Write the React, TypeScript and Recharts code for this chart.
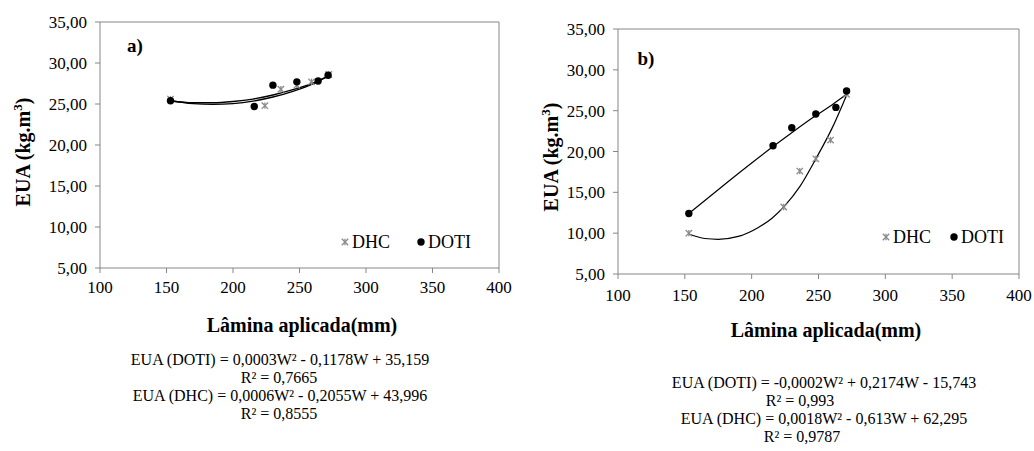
import React from 'react';
import { ComposedChart, XAxis, YAxis, Line, Scatter, ReferenceLine } from 'recharts';

const FONT = "'Liberation Serif', Tinos, 'Times New Roman', 'DejaVu Serif', serif";
const AXIS = '#868686';

// Shared ticks
const xTicks = [100, 150, 200, 250, 300, 350, 400];
const yTicks = [5, 10, 15, 20, 25, 30, 35];

// Chart a) observed points
const aDotiX = [153, 216, 230, 248, 264, 271.5];
const aDotiY = [25.4, 24.7, 27.3, 27.7, 27.8, 28.5];
const aDhcX = [153, 224, 236, 248, 259, 272];
const aDhcY = [25.6, 24.8, 26.8, 27.3, 27.7, 28.6];
// Chart a) trend lines (read from picture)
const aTrendX = [153, 170, 185, 200, 215, 230, 245, 260, 272];
const aTrendDhcY = [25.4, 25.05, 24.95, 25.05, 25.35, 25.85, 26.55, 27.45, 28.5];
const aTrendDotiY = [25.4, 25.15, 25.15, 25.3, 25.6, 26.1, 26.75, 27.55, 28.4];

// Chart b) observed points
const bDotiX = [153, 216, 230, 248, 263, 271];
const bDotiY = [12.4, 20.7, 22.9, 24.6, 25.4, 27.4];
const bDhcX = [153, 224, 236, 248, 259, 271];
const bDhcY = [10.0, 13.2, 17.6, 19.1, 21.4, 27.0];
// Chart b) trend lines (read from picture)
const bTrendDotiX = [153, 180, 200, 216, 230, 248, 260, 271];
const bTrendDotiY = [12.4, 16.0, 18.6, 20.6, 22.3, 24.4, 25.7, 27.0];
const bTrendDhcX = [153, 165, 175, 190, 205, 215, 225, 236, 248, 260, 271];
const bTrendDhcY = [9.9, 9.35, 9.25, 9.6, 10.7, 11.8, 13.4, 15.7, 19.1, 22.8, 26.9];

const zip = (xs: number[], ys: number[]) => xs.map((x, i) => ({ x, y: ys[i] }));

const Star = (props: any) => {
  const { cx, cy } = props;
  if (cx == null || cy == null) return null;
  const s = 3.2;
  return (
    <g stroke="#8a8a8a" strokeWidth={1.3}>
      <line x1={cx - s} y1={cy - s} x2={cx + s} y2={cy + s} />
      <line x1={cx - s} y1={cy + s} x2={cx + s} y2={cy - s} />
      <line x1={cx} y1={cy - s} x2={cx} y2={cy + s} />
    </g>
  );
};
const Dot = (props: any) => {
  const { cx, cy } = props;
  if (cx == null || cy == null) return null;
  return <circle cx={cx} cy={cy} r={3.7} fill="#000" />;
};

const fmt = (v: number) => v.toFixed(2).replace('.', ',');

type ChartProps = {
  width: number; height: number;
  margin: { top: number; right: number; bottom: number; left: number };
  yWidth: number; xHeight: number; xTickMargin: number;
  dhc: { x: number; y: number }[]; doti: { x: number; y: number }[];
  trendDhc: { x: number; y: number }[]; trendDoti: { x: number; y: number }[];
  lineW: number;
};

const Panel = (p: ChartProps) => (
  <ComposedChart width={p.width} height={p.height} margin={p.margin} style={{ fontFamily: FONT }}>
    <XAxis type="number" dataKey="x" domain={[100, 400]} ticks={xTicks} height={p.xHeight}
      axisLine={{ stroke: AXIS }} tickLine={{ stroke: AXIS }} tickSize={5} tickMargin={p.xTickMargin}
      tick={{ fill: '#000', fontSize: 17, fontFamily: FONT }} allowDataOverflow />
    <YAxis type="number" dataKey="y" domain={[5, 35]} ticks={yTicks} width={p.yWidth}
      axisLine={{ stroke: AXIS }} tickLine={{ stroke: AXIS }} tickSize={5} tickMargin={8}
      tickFormatter={fmt} tick={{ fill: '#000', fontSize: 17, fontFamily: FONT }} allowDataOverflow />
    <ReferenceLine y={35} stroke={AXIS} />
    <ReferenceLine x={400} stroke={AXIS} />
    <Line data={p.trendDhc} dataKey="y" type="monotone" stroke="#000" strokeWidth={p.lineW} dot={false} isAnimationActive={false} />
    <Line data={p.trendDoti} dataKey="y" type="monotone" stroke="#000" strokeWidth={p.lineW} dot={false} isAnimationActive={false} />
    <Scatter data={p.dhc} dataKey="y" shape={Star} isAnimationActive={false} />
    <Scatter data={p.doti} dataKey="y" shape={Dot} isAnimationActive={false} />
  </ComposedChart>
);

const T = (props: { x: number; y: number; size: number; bold?: boolean; rotate?: boolean; lh?: number; children: React.ReactNode }) => (
  <div style={{
    position: 'absolute', left: props.x, top: props.y, whiteSpace: 'nowrap',
    transform: `translate(-50%, -50%)${props.rotate ? ' rotate(-90deg)' : ''}`,
    fontFamily: FONT, fontSize: props.size, fontWeight: props.bold ? 'bold' : 'normal',
    lineHeight: props.lh ?? 1, color: '#000',
  }}>{props.children}</div>
);

const LegendItem = (props: { x: number; y: number; kind: 'star' | 'dot'; label: string }) => (
  <div style={{ position: 'absolute', left: props.x - 5, top: props.y - 10, height: 20, display: 'flex', alignItems: 'center', fontFamily: FONT, fontSize: 18, lineHeight: 1, whiteSpace: 'nowrap' }}>
    <svg width={10} height={20} style={{ marginRight: 2 }}>
      {props.kind === 'star' ? <Star cx={5} cy={10} /> : <Dot cx={5} cy={10} />}
    </svg>
    <span>{props.label}</span>
  </div>
);

const EQ = 16;
const EQLH = 1;

export default function App() {
  return (
    <div style={{ position: 'absolute', left: 0, top: 0, width: 1034, height: 451, background: '#fff', overflow: 'hidden' }}>
      <div style={{ position: 'absolute', left: 0, top: 0 }}>
        <Panel width={520} height={320} margin={{ top: 22, right: 21, bottom: 27, left: 40 }}
          yWidth={60} xHeight={25} xTickMargin={8}
          dhc={zip(aDhcX, aDhcY)} doti={zip(aDotiX, aDotiY)}
          trendDhc={zip(aTrendX, aTrendDhcY)} trendDoti={zip(aTrendX, aTrendDotiY)} lineW={1.4} />
      </div>
      <div style={{ position: 'absolute', left: 520, top: 0 }}>
        <Panel width={514} height={320} margin={{ top: 29, right: 15, bottom: 21, left: 38 }}
          yWidth={60} xHeight={25} xTickMargin={10}
          dhc={zip(bDhcX, bDhcY)} doti={zip(bDotiX, bDotiY)}
          trendDhc={zip(bTrendDhcX, bTrendDhcY)} trendDoti={zip(bTrendDotiX, bTrendDotiY)} lineW={1.2} />
      </div>

      {/* Panel labels */}
      <T x={135} y={45} size={19} bold>a)</T>
      <T x={646} y={58} size={19} bold>b)</T>

      {/* Axis titles */}
      <T x={22} y={152} size={20} bold rotate>EUA (kg.m<sup style={{ fontSize: '0.65em' }}>3</sup>)</T>
      <T x={550} y={157} size={20} bold rotate>EUA (kg.m<sup style={{ fontSize: '0.65em' }}>3</sup>)</T>
      <T x={302} y={325} size={20} bold>Lâmina aplicada(mm)</T>
      <T x={826} y={330} size={20} bold>Lâmina aplicada(mm)</T>

      {/* Legends */}
      <LegendItem x={345} y={242} kind="star" label="DHC" />
      <LegendItem x={421} y={242} kind="dot" label="DOTI" />
      <LegendItem x={886} y={237} kind="star" label="DHC" />
      <LegendItem x={954} y={237} kind="dot" label="DOTI" />

      {/* Equations */}
      <T x={280} y={360} size={EQ} lh={EQLH}>EUA (DOTI) = 0,0003W² - 0,1178W + 35,159</T>
      <T x={279} y={378} size={EQ} lh={EQLH}>R² = 0,7665</T>
      <T x={280} y={396} size={EQ} lh={EQLH}>EUA (DHC) = 0,0006W² - 0,2055W + 43,996</T>
      <T x={279} y={414} size={EQ} lh={EQLH}>R² = 0,8555</T>

      <T x={824} y={383} size={EQ} lh={EQLH}>EUA (DOTI) = -0,0002W² + 0,2174W - 15,743</T>
      <T x={800} y={401} size={EQ} lh={EQLH}>R² = 0,993</T>
      <T x={824} y={419} size={EQ} lh={EQLH}>EUA (DHC) = 0,0018W² - 0,613W + 62,295</T>
      <T x={802} y={437} size={EQ} lh={EQLH}>R² = 0,9787</T>
    </div>
  );
}
